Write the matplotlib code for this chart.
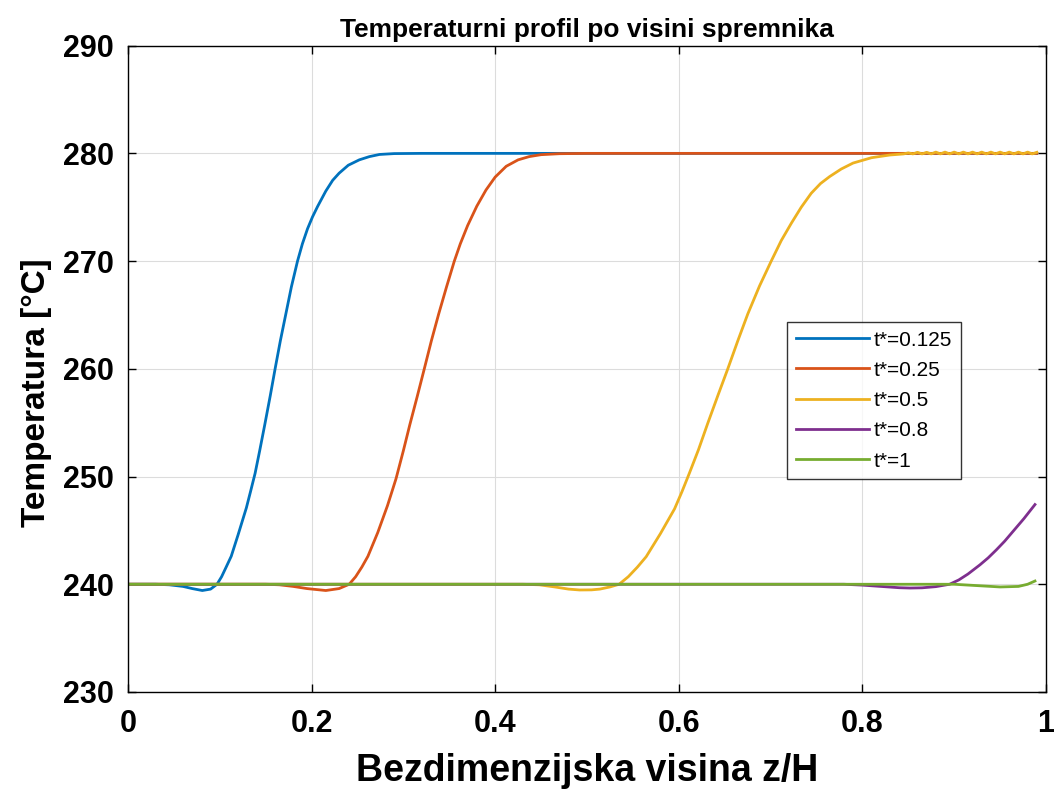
import numpy as np
import matplotlib
matplotlib.use("Agg")
from matplotlib import pyplot as plt

# values
x_blue = [0, 0.03, 0.045, 0.06, 0.07, 0.081, 0.09, 0.097, 0.102, 0.107, 0.1125, 0.12,
          0.129, 0.1335, 0.1385, 0.1435, 0.149, 0.155, 0.1605, 0.166, 0.172, 0.178,
          0.1847, 0.19, 0.1956, 0.201, 0.2065, 0.2155, 0.223, 0.230, 0.24, 0.252,
          0.263, 0.274, 0.29, 0.32, 0.99]
t_blue = [240, 240, 239.95, 239.8, 239.6, 239.42, 239.55, 240, 240.7, 241.6, 242.6, 244.6,
          247.1, 248.6, 250.3, 252.4, 254.8, 257.5, 260.1, 262.6, 265.1, 267.6,
          270, 271.6, 273.0, 274.1, 275.06, 276.5, 277.5, 278.16, 278.9, 279.4,
          279.7, 279.9, 279.98, 280, 280]

x_red = [0, 0.15, 0.165, 0.18, 0.195, 0.2155, 0.23, 0.241, 0.248, 0.2548, 0.2614, 0.2721,
         0.2827, 0.2883, 0.292, 0.3, 0.3070, 0.3150, 0.3228, 0.3305, 0.3385, 0.347,
         0.3555, 0.362, 0.370, 0.380, 0.390, 0.400, 0.412, 0.425, 0.437, 0.45,
         0.47, 0.5, 0.99]
t_red = [240, 240, 239.95, 239.8, 239.6, 239.42, 239.6, 240, 240.7, 241.6, 242.6, 244.8,
         247.3, 248.8, 249.8, 252.4, 254.8, 257.4, 260, 262.6, 265.1, 267.6,
         270, 271.6, 273.3, 275.1, 276.6, 277.8, 278.8, 279.4, 279.7, 279.88,
         279.97, 280, 280]

x_yellow = [0, 0.43, 0.448, 0.465, 0.48, 0.492, 0.505, 0.514, 0.525, 0.535, 0.545, 0.555,
            0.5645, 0.58, 0.5954, 0.6035, 0.6115, 0.6215, 0.6316, 0.6425, 0.6534, 0.6643,
            0.6752, 0.688, 0.7007, 0.7116, 0.7225, 0.7334, 0.7443, 0.7544, 0.7644, 0.777,
            0.7898, 0.81, 0.83, 0.845,
            0.85, 0.855, 0.86, 0.865, 0.87, 0.875, 0.88, 0.885, 0.89, 0.895,
            0.90, 0.905, 0.91, 0.915, 0.92, 0.925, 0.93, 0.935, 0.94, 0.945,
            0.95, 0.955, 0.96, 0.965, 0.97, 0.975, 0.98, 0.985, 0.99]
t_yellow = [240, 240, 239.95, 239.75, 239.55, 239.47, 239.48, 239.55, 239.75, 240, 240.7, 241.6,
            242.56, 244.7, 247.0, 248.6, 250.3, 252.5, 254.95, 257.5, 260, 262.6,
            265.1, 267.7, 270, 271.9, 273.5, 275.0, 276.3, 277.2, 277.85, 278.55,
            279.1, 279.6, 279.85, 279.95,
            280.05, 279.95, 280.1, 279.95, 280.1, 279.95, 280.12, 279.95, 280.12, 279.95,
            280.12, 279.95, 280.12, 279.95, 280.12, 279.95, 280.12, 279.95, 280.12, 279.95,
            280.12, 279.95, 280.12, 279.95, 280.12, 279.95, 280.12, 279.95, 280.1]

x_purple = [0, 0.78, 0.80, 0.82, 0.84, 0.852, 0.865, 0.88, 0.895, 0.905, 0.915, 0.928,
            0.937, 0.946, 0.955, 0.964, 0.976, 0.988]
t_purple = [240, 240, 239.92, 239.8, 239.68, 239.65, 239.67, 239.78, 240, 240.4, 240.95, 241.8,
            242.45, 243.2, 244.0, 244.9, 246.1, 247.4]

x_green = [0, 0.90, 0.93, 0.95, 0.97, 0.98, 0.988]
t_green = [240, 240, 239.85, 239.75, 239.8, 240.0, 240.3]

labels = ["t*=0.125", "t*=0.25", "t*=0.5", "t*=0.8", "t*=1"]
colors = ["#0072BD", "#D95319", "#EDB120", "#7E2F8E", "#77AC30"]

plt.rcParams["font.family"] = ["Liberation Sans", "DejaVu Sans"]

fig = plt.figure(figsize=(10.54, 8.01), dpi=100)
ax = fig.add_axes([0.1214, 0.1361, 0.8710, 0.8069])

series = [(x_blue, t_blue), (x_red, t_red), (x_yellow, t_yellow),
          (x_purple, t_purple), (x_green, t_green)]
for (xs, ts), lab, col in zip(series, labels, colors):
    ax.plot(xs, ts, color=col, lw=2, label=lab)

ax.set_xlim(0, 1)
ax.set_ylim(230, 290)
ax.set_xticks([0, 0.2, 0.4, 0.6, 0.8, 1])
ax.set_xticklabels(["0", "0.2", "0.4", "0.6", "0.8", "1"])
ax.set_yticks(np.arange(230, 291, 10))
ax.grid(True, color="#dcdcdc", lw=0.8)
ax.set_axisbelow(True)
ax.tick_params(direction="in", top=True, right=True, length=6, width=1)
ax.tick_params(axis="both", labelsize=22)
for lab in ax.get_xticklabels() + ax.get_yticklabels():
    lab.set_fontweight("bold")
ax.tick_params(axis="x", pad=12)
ax.tick_params(axis="y", pad=10)
for sp in ax.spines.values():
    sp.set_linewidth(1)

ax.set_xlabel("Bezdimenzijska visina z/H", fontsize=27, fontweight="bold", labelpad=10)
ax.set_ylabel("Temperatura [°C]", fontsize=24, fontweight="bold")
ax.yaxis.set_label_coords(-0.083, 0.463)
ax.set_title("Temperaturni profil po visini spremnika", fontsize=19, fontweight="bold", pad=6)

leg = ax.legend(loc="upper left", bbox_to_anchor=(0.718, 0.5725), fontsize=15,
                frameon=True, fancybox=False, edgecolor="black", handlelength=3.5,
                borderpad=0.41, labelspacing=0.54, handletextpad=0.25, borderaxespad=0)
leg.get_frame().set_linewidth(1)

fig.savefig("out.png", dpi=100)
